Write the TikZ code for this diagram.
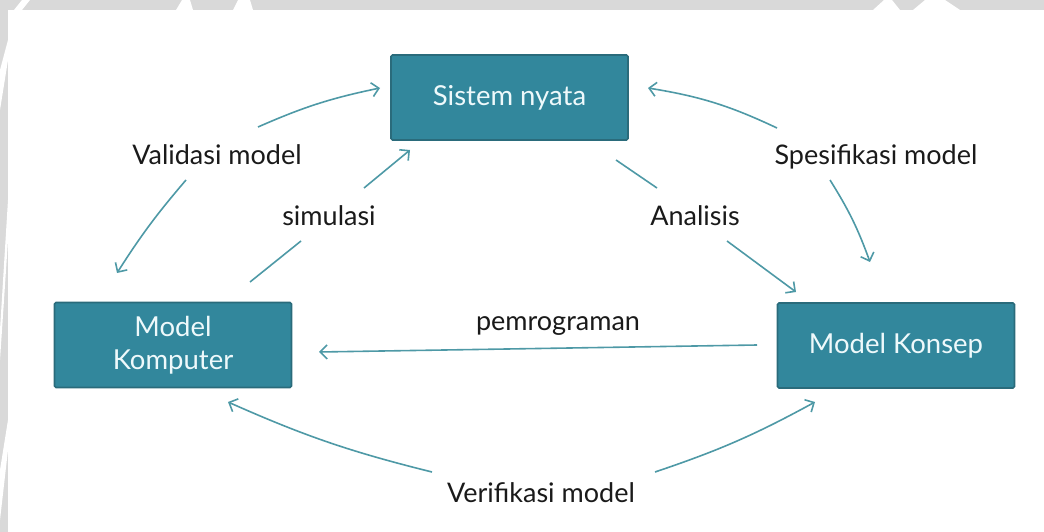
\documentclass[tikz,border=0pt]{standalone}
\usepackage{fontspec}
\setmainfont{Lato}
\usetikzlibrary{arrows.meta}
\definecolor{boxfill}{HTML}{32879C}
\definecolor{boxdraw}{HTML}{2A6B7B}
\definecolor{boxtext}{HTML}{EEF9FB}
\definecolor{arrcol}{HTML}{4E99A6}
\definecolor{bggray}{HTML}{D9D9D9}
\definecolor{labtext}{HTML}{1A1A1A}
\tikzset{
  procbox/.style={draw=boxdraw, line width=1.6pt, fill=boxfill, rounded corners=1.5pt,
    minimum width=237pt, minimum height=85pt, inner sep=0pt, text=boxtext,
    font=\fontsize{27.5}{33}\selectfont, align=center},
  lab/.style={text=labtext, font=\fontsize{27}{30}\selectfont, inner sep=0pt},
  arr/.style={draw=arrcol, line width=1.6pt, -{Straight Barb[length=7pt, width=14pt, line width=1.6pt]}},
  seg/.style={draw=arrcol, line width=1.6pt}
}
\begin{document}
\begin{tikzpicture}[x=1pt, y=-1pt]
\useasboundingbox (0,0) rectangle (1044,532);
% background frame
\fill[bggray] (0,0) rectangle (1044,10);
\fill[bggray] (0,0) rectangle (8,532);
\fill[white] (14,10) -- (22,0) -- (30,0) -- (22,10) -- cycle;
\fill[white] (176,10) -- (182,0) -- (190,0) -- (193,10) -- cycle;
\fill[white] (233,10) -- (238,0) -- (250,0) -- (253,10) -- cycle;
\fill[white] (873,10) -- (884,0) -- (892,0) -- (900,10) -- cycle;
\fill[white] (913,10) -- (925,0) -- (945,0) -- (960,10) -- cycle;
\fill[white] (8,40) -- (0,70) -- (0,110) -- (8,60) -- cycle;
\fill[white] (8,200) -- (0,330) -- (0,360) -- (8,240) -- cycle;
\fill[white] (8,420) -- (0,470) -- (0,520) -- (8,450) -- cycle;

% boxes
\node[procbox] (SN) at (509.5,97.5) {Sistem nyata};
\node[procbox] (MK) at (173,345) {Model\\Komputer};
\node[procbox] (MC) at (896,345.5) {Model Konsep};

% labels
\node[lab] (lval) at (217,155) {Validasi model};
\node[lab] (lsim) at (329,216) {simulasi};
\node[lab] (lspe) at (876,157) {Spesifikasi model};
\node[lab] (lana) at (695,216) {Analisis};
\node[lab] (lpem) at (558,326) {pemrograman};
\node[lab] (lver) at (541,493) {Verifikasi model};

% connector end points
\coordinate (v1a) at (258,127);  \coordinate (v1b) at (380,88);
\coordinate (v2a) at (186,180);  \coordinate (v2b) at (117,273);
\coordinate (s1a) at (250,282);  \coordinate (s1b) at (301,241);
\coordinate (s2a) at (364,188);  \coordinate (s2b) at (410,150);
\coordinate (p1a) at (777,128);  \coordinate (p1b) at (648,88);
\coordinate (p2a) at (830,180);  \coordinate (p2b) at (870,262);
\coordinate (a1a) at (616,160);  \coordinate (a1b) at (657,188);
\coordinate (a2a) at (727,241);  \coordinate (a2b) at (796,292);
\coordinate (pra) at (757,345);  \coordinate (prb) at (319,352);
\coordinate (b1a) at (432,472);  \coordinate (b1b) at (228,402);
\coordinate (b2a) at (655,472);  \coordinate (b2b) at (815,402);

% connectors
\draw[arr] (v1a) to[bend left=6] (v1b);
\draw[arr] (v2a) to[bend right=4] (v2b);
\draw[seg] (s1a) -- (s1b);
\draw[arr] (s2a) -- (s2b);
\draw[arr] (p1a) to[bend right=8] (p1b);
\draw[arr] (p2a) to[bend left=6] (p2b);
\draw[seg] (a1a) -- (a1b);
\draw[arr] (a2a) -- (a2b);
\draw[arr] (pra) -- (prb);
\draw[arr] (b1a) to[bend left=5] (b1b);
\draw[arr] (b2a) to[bend right=5] (b2b);
\end{tikzpicture}
\end{document}
